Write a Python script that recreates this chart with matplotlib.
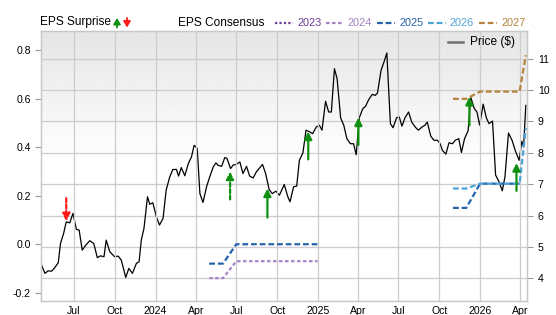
import matplotlib
matplotlib.use('Agg')
import matplotlib.pyplot as plt
import matplotlib.dates as mdates
from matplotlib.lines import Line2D
from matplotlib.patches import FancyArrowPatch
from matplotlib.ticker import FuncFormatter, FormatStrFormatter
import numpy as np
import pandas as pd

plt.rcParams['font.family'] = ['Liberation Sans', 'DejaVu Sans']
plt.rcParams['axes.unicode_minus'] = False

# weekly-ish closing price ($), right axis
price_dates = [
    '2023-04-19', '2023-04-27', '2023-05-04', '2023-05-12', '2023-05-19', '2023-05-27',
    '2023-06-01', '2023-06-08', '2023-06-14', '2023-06-22', '2023-06-29', '2023-07-07',
    '2023-07-13', '2023-07-20', '2023-07-28', '2023-08-06', '2023-08-15', '2023-08-23',
    '2023-08-30', '2023-09-07', '2023-09-12', '2023-09-20', '2023-10-01', '2023-10-09',
    '2023-10-16', '2023-10-26', '2023-11-02', '2023-11-10', '2023-11-19', '2023-11-25',
    '2023-11-30', '2023-12-06', '2023-12-14', '2023-12-19', '2023-12-26', '2024-01-03',
    '2024-01-10', '2024-01-18', '2024-01-25', '2024-02-02', '2024-02-09', '2024-02-17',
    '2024-02-22', '2024-02-28', '2024-03-07', '2024-03-15', '2024-03-22', '2024-03-28',
    '2024-04-04', '2024-04-10', '2024-04-17', '2024-04-25', '2024-05-02', '2024-05-10',
    '2024-05-16', '2024-05-21', '2024-05-29', '2024-06-05', '2024-06-10', '2024-06-18',
    '2024-06-24', '2024-07-01', '2024-07-09', '2024-07-16', '2024-07-24', '2024-07-31',
    '2024-08-08', '2024-08-15', '2024-08-23', '2024-08-29', '2024-09-05', '2024-09-13',
    '2024-09-20', '2024-09-28', '2024-10-06', '2024-10-17', '2024-10-25', '2024-10-30',
    '2024-11-07', '2024-11-14', '2024-11-20', '2024-11-28', '2024-12-05', '2024-12-13',
    '2024-12-20', '2024-12-28', '2025-01-04', '2025-01-10', '2025-01-18', '2025-01-25',
    '2025-01-31', '2025-02-07', '2025-02-13', '2025-02-21', '2025-02-28', '2025-03-07',
    '2025-03-15', '2025-03-22', '2025-03-28', '2025-04-04', '2025-04-12', '2025-04-18',
    '2025-04-25', '2025-05-03', '2025-05-10', '2025-05-15', '2025-05-23', '2025-05-30',
    '2025-06-05', '2025-06-13', '2025-06-19', '2025-06-27', '2025-07-03', '2025-07-09',
    '2025-07-16', '2025-07-24', '2025-07-31', '2025-08-08', '2025-08-15', '2025-08-23',
    '2025-08-30', '2025-09-04', '2025-09-12', '2025-09-19', '2025-09-27', '2025-10-03',
    '2025-10-08', '2025-10-16', '2025-10-23', '2025-10-31', '2025-11-06', '2025-11-14',
    '2025-11-20', '2025-11-27', '2025-12-05', '2025-12-11', '2025-12-19', '2025-12-25',
    '2025-12-31', '2026-01-08', '2026-01-15', '2026-01-21', '2026-01-29', '2026-02-05',
    '2026-02-13', '2026-02-20', '2026-02-26', '2026-03-06', '2026-03-14', '2026-03-21',
    '2026-03-27', '2026-03-30', '2026-04-05', '2026-04-09', '2026-04-14',
]
price_vals = [
    4.44, 4.16, 4.24, 4.23, 4.34, 4.50,
    5.11, 5.43, 5.80, 5.77, 6.07, 5.56,
    5.54, 4.90, 5.06, 5.20, 5.11, 4.66,
    4.72, 4.69, 5.22, 4.85, 4.69, 4.71,
    4.58, 4.03, 4.32, 4.16, 4.48, 4.53,
    5.22, 5.59, 6.60, 6.36, 6.41, 5.96,
    5.70, 5.91, 6.81, 7.23, 7.47, 7.47,
    7.26, 7.53, 7.27, 7.66, 7.87, 8.24,
    8.14, 6.70, 6.42, 6.92, 7.23, 7.55,
    7.68, 7.60, 7.57, 7.85, 7.82, 7.50,
    7.61, 7.63, 7.71, 7.34, 7.57, 7.26,
    7.20, 7.39, 7.53, 7.63, 7.34, 6.83,
    6.70, 6.78, 6.65, 6.99, 6.60, 6.44,
    6.92, 6.94, 7.76, 8.00, 8.72, 8.67,
    8.61, 8.82, 8.88, 8.72, 9.64, 9.30,
    9.30, 10.68, 10.36, 9.11, 8.88, 8.45,
    8.29, 8.29, 7.94, 9.12, 9.41, 9.48,
    9.69, 9.86, 9.83, 9.91, 10.63, 10.91,
    11.18, 8.93, 8.80, 9.12, 9.14, 8.85,
    9.12, 9.30, 8.98, 8.82, 8.72, 8.82,
    8.88, 8.98, 8.53, 8.40, 8.40, 8.29,
    8.08, 7.96, 8.32, 8.29, 8.40, 8.45,
    8.01, 8.45, 8.70, 9.76, 9.41, 9.30,
    8.88, 9.55, 9.12, 8.93, 9.01, 7.29,
    7.07, 6.79, 7.23, 8.63, 8.40, 8.08,
    7.87, 7.76, 8.37, 8.19, 9.51,
]

# EPS consensus by fiscal year, left axis (None = no estimate)
cons_years = ['2023', '2024', '2025', '2026', '2027']
cons_2023_dates = []
cons_2023_vals = []
cons_2024_dates = ['2024-05-01', '2024-06-01', '2024-07-01', '2024-12-31']
cons_2024_vals = [-0.14, -0.14, -0.07, -0.07]
cons_2025_dates = ['2024-05-01', '2024-06-01', '2024-07-01', '2024-12-31', '2025-06-01',
                   '2025-11-01', '2025-12-01', '2026-01-01', '2026-03-31']
cons_2025_vals = [-0.08, -0.08, 0.0, 0.0, None, 0.15, 0.15, 0.25, 0.25]
cons_2026_dates = ['2025-11-01', '2025-12-01', '2026-01-01', '2026-03-31', '2026-04-14']
cons_2026_vals = [0.23, 0.23, 0.25, 0.25, 0.48]
cons_2027_dates = ['2025-11-01', '2025-12-01', '2026-01-01', '2026-03-31', '2026-04-14']
cons_2027_vals = [0.60, 0.60, 0.63, 0.63, 0.78]

# EPS surprise: estimate -> actual at report date
surprise_dates = ['2023-06-14', '2024-06-17', '2024-09-09', '2024-12-10',
                  '2025-04-02', '2025-12-08', '2026-03-24']
surprise_est = [0.19, 0.185, 0.11, 0.35, 0.41, 0.49, 0.22]
surprise_act = [0.095, 0.30, 0.23, 0.465, 0.523, 0.608, 0.335]
surprise_prelim = [True, True, False, False, False, False, False]

cons_colors = ['#6a3d96', '#a584c6', '#2563ad', '#4aa4d8', '#b5843a']
cons_styles = [(0, (1, 1)), (0, (1.6, 1.1)), (0, (2.6, 1.3)), (0, (2.6, 1.3)), (0, (2.6, 1.3))]
cons_data = [(cons_2023_dates, cons_2023_vals), (cons_2024_dates, cons_2024_vals),
             (cons_2025_dates, cons_2025_vals), (cons_2026_dates, cons_2026_vals),
             (cons_2027_dates, cons_2027_vals)]

W, H = 556, 315
fig = plt.figure(figsize=(W / 100, H / 100), dpi=100)
rect = [40.5 / W, 1 - 300.7 / H, (526.7 - 40.5) / W, (300.7 - 31) / H]

# gradient background
bg = fig.add_axes(rect, zorder=0)
t = np.linspace(0, 1, 300)[:, None]
shade = 0.898 + (1 - 0.898) * np.clip(t / 0.48, 0, 1)
bg.imshow(shade, aspect='auto', cmap='gray', vmin=0, vmax=1, extent=[0, 1, 0, 1])
bg.axis('off')

ax2 = fig.add_axes(rect, zorder=1)   # price (right)
ax = fig.add_axes(rect, zorder=2, sharex=ax2)  # EPS (left)
ax.patch.set_visible(False)
ax2.patch.set_visible(False)

ax2.yaxis.tick_right()
ax2.plot(pd.to_datetime(price_dates), price_vals, color='black', lw=0.9)
ax2.set_ylim(3.29, 11.88)
ax2.set_yticks(range(4, 12))
ax2.grid(axis='y', color='#cccccc', lw=0.9)
ax2.set_axisbelow(True)
ax2.tick_params(axis='y', length=4, color='#999999', labelsize=7.6, pad=4)
ax2.tick_params(axis='x', bottom=False, labelbottom=False)

for (ds, vs), c, ls in zip(cons_data, cons_colors, cons_styles):
    if not ds:
        continue
    vals = [np.nan if v is None else v for v in vs]
    ax.plot(pd.to_datetime(ds), vals, color=c, lw=1.6, ls=ls)

for d, e, a, pre in zip(surprise_dates, surprise_est, surprise_act, surprise_prelim):
    x = mdates.date2num(pd.Timestamp(d))
    c = '#109010' if a >= e else '#ff1a1a'
    ax.annotate('', xy=(x, a), xytext=(x, e),
                arrowprops=dict(arrowstyle='-|>', color=c, lw=1.6, mutation_scale=11,
                                shrinkA=0, shrinkB=0,
                                linestyle=(0, (1.8, 1.0)) if pre else '-'))

ax.set_ylim(-0.233, 0.88)
ax.set_yticks([-0.2, 0, 0.2, 0.4, 0.6, 0.8])
ax.yaxis.set_major_formatter(FormatStrFormatter('%.1f'))
ax.set_xlim(pd.Timestamp('2023-04-17'), pd.Timestamp('2026-04-16'))
ax.xaxis.set_major_locator(mdates.MonthLocator(bymonth=[1, 4, 7, 10]))


def qfmt(x, pos):
    d = mdates.num2date(x)
    return str(d.year) if d.month == 1 else d.strftime('%b')


ax.xaxis.set_major_formatter(FuncFormatter(qfmt))
ax.grid(axis='x', color='#cccccc', lw=0.9)
ax.tick_params(axis='y', length=4, color='#999999', labelsize=7.6, pad=3)
ax.tick_params(axis='x', length=0, labelsize=7.6, pad=4)
for a in (ax, ax2):
    for s in a.spines.values():
        s.set_color('#c8c8c8')
        s.set_linewidth(0.9)

# top legend
fx = lambda px: px / W
fy = lambda py: 1 - py / H
ly = 22.5
fig.text(fx(40.5), fy(ly), 'EPS Surprise', fontsize=8.6, va='center', ha='left')
fig.add_artist(FancyArrowPatch((fx(117), fy(27.5)), (fx(117), fy(18)), transform=fig.transFigure,
                               arrowstyle='-|>,head_length=0.5,head_width=0.3', mutation_scale=7,
                               lw=1.3, color='#109010', shrinkA=0, shrinkB=0))
fig.add_artist(FancyArrowPatch((fx(127), fy(18)), (fx(127), fy(27.5)), transform=fig.transFigure,
                               arrowstyle='-|>,head_length=0.5,head_width=0.3', mutation_scale=7,
                               lw=1.3, color='#ff1a1a', shrinkA=0, shrinkB=0))
fig.text(fx(178), fy(ly), 'EPS Consensus', fontsize=8.6, va='center', ha='left')
line_x0 = [275, 326, 377, 428, 479]
for yr, c, ls, x0 in zip(cons_years, cons_colors, cons_styles, line_x0):
    fig.add_artist(Line2D([fx(x0), fx(x0 + 18)], [fy(ly), fy(ly)], transform=fig.transFigure,
                          color=c, lw=1.6, ls=ls))
    fig.text(fx(x0 + 22), fy(ly), yr, fontsize=7.9, color=c, va='center', ha='left')

# price legend
fig.add_artist(Line2D([fx(447.5), fx(463)], [fy(41.7), fy(41.7)], transform=fig.transFigure,
                      color='#707070', lw=1.8))
fig.text(fx(470), fy(41.7), 'Price ($)', fontsize=8.6, va='center', ha='left')

fig.savefig('out.png', dpi=100)
